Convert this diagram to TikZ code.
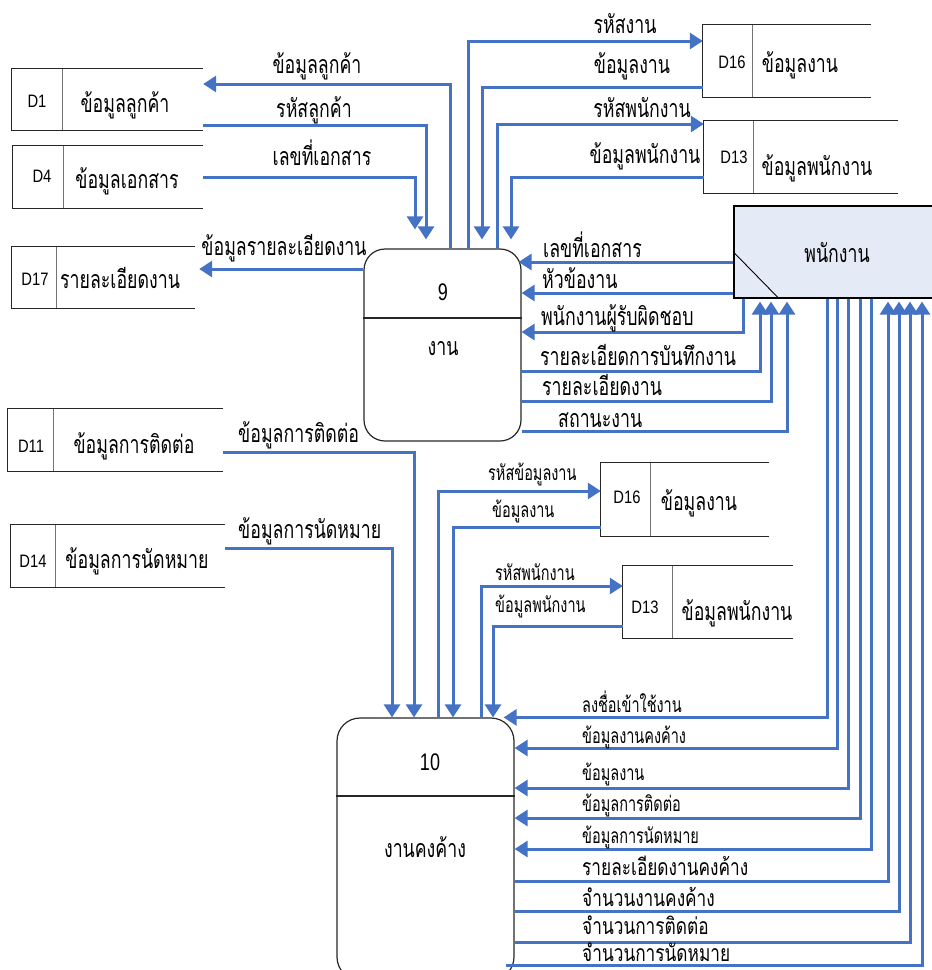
\documentclass[tikz,border=0pt]{standalone}
\usepackage{fontspec}
\setmainfont{Liberation Sans}[FakeStretch=0.82]
\newfontfamily\thaifont[Script=Thai,FakeStretch=0.71]{Loma}
\newfontfamily\thaismall[Script=Thai,FakeStretch=0.69]{Loma}
\newfontfamily\thaimid[Script=Thai,FakeStretch=0.75]{Loma}
\newfontfamily\numfont{Liberation Sans}[FakeStretch=0.75]
\usetikzlibrary{arrows.meta}
\definecolor{flowblue}{HTML}{4472C4}
\definecolor{entfill}{HTML}{E4EAF6}
\tikzset{
  flow/.style={draw=flowblue, line width=3pt, -{Triangle[length=13pt,width=16pt]}},
  storeline/.style={draw=black!85, line width=1.2pt},
  divline/.style={draw=black!55, line width=0.9pt},
  proc/.style={draw=black!85, line width=1.2pt, rounded corners=21pt, inner sep=0},
  entity/.style={draw=black, line width=1.2pt, fill=entfill, inner sep=0},
  thbig/.style={font=\thaifont\fontsize{25}{29}\selectfont, inner sep=0, anchor=base},
  thbigw/.style={thbig, anchor=base west},
  thsm/.style={font=\thaismall\fontsize{21}{25}\selectfont, inner sep=0, anchor=base west},
  thmd/.style={font=\thaimid\fontsize{23}{27}\selectfont, inner sep=0, anchor=base west},
  idtxt/.style={font=\fontsize{18}{21}\selectfont, inner sep=0, anchor=base},
  numtxt/.style={font=\numfont\fontsize{24}{28}\selectfont, inner sep=0, anchor=base}
}
% open-ended data store: name, left, top, right, bottom, divider x
\newcommand{\dstore}[6]{%
  \node[inner sep=0, minimum width={(#4-#2)*1pt}, minimum height={(#5-#3)*1pt}] (#1) at ({(#2+#4)/2},{(#3+#5)/2}) {};
  \draw[storeline] (#1.north east) -- (#1.north west) -- (#1.south west) -- (#1.south east);
  \draw[divline] (#1.north west -| #6,0) -- (#1.south west -| #6,0);
}
\begin{document}
\begin{tikzpicture}[x=1pt,y=-1pt]
\useasboundingbox (0,0) rectangle (932,970);
\clip (0,0) rectangle (932,970);

% ---------- data stores ----------
\dstore{d1}{12}{69}{203}{130}{62}
\node[idtxt] (d1id) at (37,107) {D1};
\node[thbig] (d1t) at (125,112) {ข้อมูลลูกค้า};

\dstore{d4}{13}{146}{203}{208}{63}
\node[idtxt] (d4id) at (42,182) {D4};
\node[thbig] (d4t) at (127,188) {ข้อมูลเอกสาร};

\dstore{d17}{12}{247}{195}{308}{56}
\node[idtxt] (d17id) at (35,285) {D17};
\node[thbig] (d17t) at (120,288) {รายละเอียดงาน};

\dstore{d16a}{703}{25}{871}{97}{752}
\node[idtxt] (d16aid) at (732,68) {D16};
\node[thbig] (d16at) at (800,72) {ข้อมูลงาน};

\dstore{d13a}{704}{121}{898}{193}{753}
\node[idtxt] (d13aid) at (734,163) {D13};
\node[thbig] (d13at) at (817,175) {ข้อมูลพนักงาน};

\dstore{d11}{8}{409}{223}{471}{53}
\node[idtxt] (d11id) at (31,452) {D11};
\node[thbig] (d11t) at (134,453) {ข้อมูลการติดต่อ};

\dstore{d14}{11}{525}{225}{587}{55}
\node[idtxt] (d14id) at (33,567) {D14};
\node[thbig] (d14t) at (137,568) {ข้อมูลการนัดหมาย};

\dstore{d16b}{601}{463}{769}{536}{650}
\node[idtxt] (d16bid) at (627,503) {D16};
\node[thbig] (d16bt) at (699,510) {ข้อมูลงาน};

\dstore{d13b}{623}{566}{793}{638}{672}
\node[idtxt] (d13bid) at (645,613) {D13};
\node[thbig] (d13bt) at (737,620) {ข้อมูลพนักงาน};

% ---------- processes ----------
\node[proc, minimum width=157pt, minimum height=192pt] (p9) at (442.5,345) {};
\draw[storeline] (p9.west |- 0,318) -- (p9.east |- 0,318);
\node[numtxt] (p9n) at (443,300) {9};
\node[thbig] (p9t) at (443,355) {งาน};

\node[proc, rounded corners=23pt, minimum width=177pt, minimum height=262pt] (p10) at (425.5,849) {};
\draw[storeline] (p10.west |- 0,796) -- (p10.east |- 0,796);
\node[numtxt] (p10n) at (430,770) {10};
\node[thbig] (p10t) at (425,857) {งานคงค้าง};

% ---------- external entity ----------
\node[entity, minimum width=206pt, minimum height=92pt] (emp) at (837,252) {};
\draw[line width=0.9pt] (emp.west |- 0,252) -- (emp.south -| 779,0);
\node[thbig] (empt) at (837,262) {พนักงาน};

% ---------- flows of process 9 ----------
\draw[flow] (p9.north -| 450,0) |- (d1.east |- 0,84);
\node[thbig] (f1) at (317,73) {ข้อมูลลูกค้า};
\draw[flow, shorten >=9pt] (d1.east |- 0,125) -| (p9.north -| 426,0);
\node[thbig] (f2) at (314,117) {รหัสลูกค้า};
\draw[flow, shorten >=19pt] (d4.east |- 0,177) -| (p9.north -| 415,0);
\node[thbig] (f3) at (322,165) {เลขที่เอกสาร};
\draw[flow, shorten >=4pt] (p9.west |- 0,269) -- (d17.east |- 0,269);
\node[thbig] (f4) at (284,255) {ข้อมูลรายละเอียดงาน};

\draw[flow] (p9.north -| 468,0) |- (d16a.west |- 0,41);
\node[thbig] (f5) at (625,33) {รหัสงาน};
\draw[flow, shorten >=9pt] (d16a.west |- 0,87) -| (p9.north -| 482,0);
\node[thbig] (f6) at (632,73) {ข้อมูลงาน};
\draw[flow] (p9.north -| 497,0) |- (d13a.west |- 0,124);
\node[thbig] (f7) at (642,117) {รหัสพนักงาน};
\draw[flow, shorten >=9pt] (d13a.west |- 0,177) -| (p9.north -| 511,0);
\node[thbig] (f8) at (645,163) {ข้อมูลพนักงาน};

\draw[flow, shorten >=-3pt] (emp.west |- 0,262) -- (p9.east |- 0,262);
\node[thbigw] (f9) at (543,257) {เลขที่เอกสาร};
\draw[flow] (emp.west |- 0,293) -- (p9.east |- 0,293);
\node[thbigw] (f10) at (542,288) {หัวข้องาน};
\draw[flow] (emp.south -| 743,0) |- (p9.east |- 0,332);
\node[thbigw] (f11) at (541,325) {พนักงานผู้รับผิดชอบ};
\draw[flow, shorten >=3pt] (p9.east |- 0,371) -| (emp.south -| 760,0);
\node[thbigw] (f12) at (540,365) {รายละเอียดการบันทึกงาน};
\draw[flow, shorten >=3pt] (p9.east |- 0,401) -| (emp.south -| 771,0);
\node[thbigw] (f13) at (542,395) {รายละเอียดงาน};
\draw[flow, shorten >=3pt] (p9.east |- 0,431) -| (emp.south -| 787,0);
\node[thbigw] (f14) at (558,427) {สถานะงาน};

% ---------- flows of process 10 ----------
\draw[flow] (d11.east |- 0,452) -| (p10.north -| 414,0);
\node[thbigw] (g1) at (238,442) {ข้อมูลการติดต่อ};
\draw[flow] (d14.east |- 0,548) -| (p10.north -| 392,0);
\node[thbigw] (g2) at (238,538) {ข้อมูลการนัดหมาย};

\draw[flow] (p10.north -| 438,0) |- (d16b.west |- 0,491);
\node[thsm] (g3) at (488,480) {รหัสข้อมูลงาน};
\draw[flow] (d16b.west |- 0,527) -| (p10.north -| 453,0);
\node[thsm] (g4) at (492,517) {ข้อมูลงาน};
\draw[flow] (p10.north -| 481,0) |- (d13b.west |- 0,586);
\node[thsm] (g5) at (495,580) {รหัสพนักงาน};
\draw[flow] (d13b.west |- 0,626) -| (p10.north -| 493,0);
\node[thsm] (g6) at (495,612) {ข้อมูลพนักงาน};

\draw[flow, shorten >=-11pt] (emp.south -| 827,0) |- (p10.north east);
\node[thsm] (h1) at (582,712) {ลงชื่อเข้าใช้งาน};
\draw[flow] (emp.south -| 837,0) |- (p10.east |- 0,748);
\node[thsm] (h2) at (582,743) {ข้อมูลงานคงค้าง};
\draw[flow] (emp.south -| 848,0) |- (p10.east |- 0,788);
\node[thsm] (h3) at (582,780) {ข้อมูลงาน};
\draw[flow] (emp.south -| 860,0) |- (p10.east |- 0,818);
\node[thsm] (h4) at (582,811) {ข้อมูลการติดต่อ};
\draw[flow] (emp.south -| 871,0) |- (p10.east |- 0,849);
\node[thsm] (h5) at (582,843) {ข้อมูลการนัดหมาย};
\draw[flow, shorten >=3pt] (p10.east |- 0,881) -| (emp.south -| 888,0);
\node[thmd] (h6) at (582,875) {รายละเอียดงานคงค้าง};
\draw[flow, shorten >=3pt] (p10.east |- 0,911) -| (emp.south -| 899,0);
\node[thmd] (h7) at (582,906) {จำนวนงานคงค้าง};
\draw[flow, shorten >=3pt] (p10.east |- 0,942) -| (emp.south -| 910,0);
\node[thmd] (h8) at (582,934) {จำนวนการติดต่อ};
\draw[flow, shorten >=3pt] ([xshift=-9pt]p10.east |- 0,965) -| (emp.south -| 922,0);
\node[thmd] (h9) at (582,961) {จำนวนการนัดหมาย};
\end{tikzpicture}
\end{document}
